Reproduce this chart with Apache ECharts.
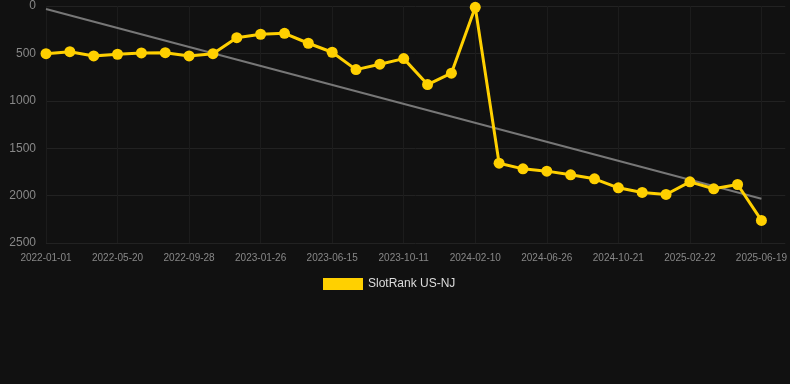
<!DOCTYPE html>
<html>
<head>
<meta charset="utf-8">
<script src="https://cdn.jsdelivr.net/npm/echarts@6/dist/echarts.min.js"></script>
<style>
html,body{margin:0;padding:0;background:#111111;}
#chart{width:790px;height:384px;}
</style>
</head>
<body>
<div id="chart"></div>
<script>
const categories = ['2022-01-01','2022-02-16','2022-04-04','2022-05-20','2022-07-03','2022-08-16','2022-09-28','2022-11-07','2022-12-17','2023-01-26','2023-03-12','2023-04-29','2023-06-15','2023-07-24','2023-09-01','2023-10-11','2023-11-20','2023-12-31','2024-02-10','2024-03-26','2024-05-11','2024-06-26','2024-08-04','2024-09-12','2024-10-21','2024-12-01','2025-01-11','2025-02-22','2025-04-01','2025-05-10','2025-06-19',''];
const rankValues = [503,482,527,509,495,492,527,503,334,298,288,393,488,671,614,555,829,709,14,1658,1718,1742,1781,1823,1918,1967,1988,1855,1928,1883,2262];
const trendStart = 32;
const trendEnd = 2034;
const seriesName = 'SlotRank US-NJ';

const trendData = categories.map(() => null);
trendData[0] = trendStart;
trendData[rankValues.length - 1] = trendEnd;

const chart = echarts.init(document.getElementById('chart'));
chart.setOption({
  backgroundColor: '#111111',
  animation: false,
  grid: { left: 46, right: 4, top: 6, bottom: 141 },
  legend: {
    data: [seriesName],
    top: 273,
    left: 318,
    icon: 'rect',
    itemWidth: 40,
    itemHeight: 12,
    textStyle: { color: '#dddddd', fontSize: 12, fontFamily: 'Liberation Sans, Arial, sans-serif' }
  },
  xAxis: {
    type: 'category',
    data: categories,
    boundaryGap: false,
    axisLine: { show: false, onZero: false },
    axisTick: { show: false },
    axisLabel: { interval: 2, color: '#888888', fontSize: 10, margin: 10, fontFamily: 'Liberation Sans, Arial, sans-serif' },
    splitLine: { show: true, interval: 2, lineStyle: { color: '#1c1c1c', width: 1 } }
  },
  yAxis: {
    type: 'value',
    inverse: true,
    min: 0,
    max: 2500,
    interval: 500,
    axisLine: { show: false },
    axisTick: { show: false },
    axisLabel: { color: '#888888', fontSize: 12, margin: 10, formatter: v => String(v), fontFamily: 'Liberation Sans, Arial, sans-serif' },
    splitLine: { lineStyle: { color: '#222222', width: 1 } }
  },
  series: [
    {
      name: 'Trend',
      type: 'line',
      data: trendData,
      connectNulls: true,
      symbol: 'none',
      lineStyle: { color: '#777777', width: 2 },
      z: 1,
      silent: true
    },
    {
      name: seriesName,
      type: 'line',
      data: rankValues,
      symbol: 'circle',
      symbolSize: 11,
      itemStyle: { color: '#FFD000' },
      lineStyle: { color: '#FFD000', width: 3 },
      z: 2
    }
  ]
});
</script>
</body>
</html>
